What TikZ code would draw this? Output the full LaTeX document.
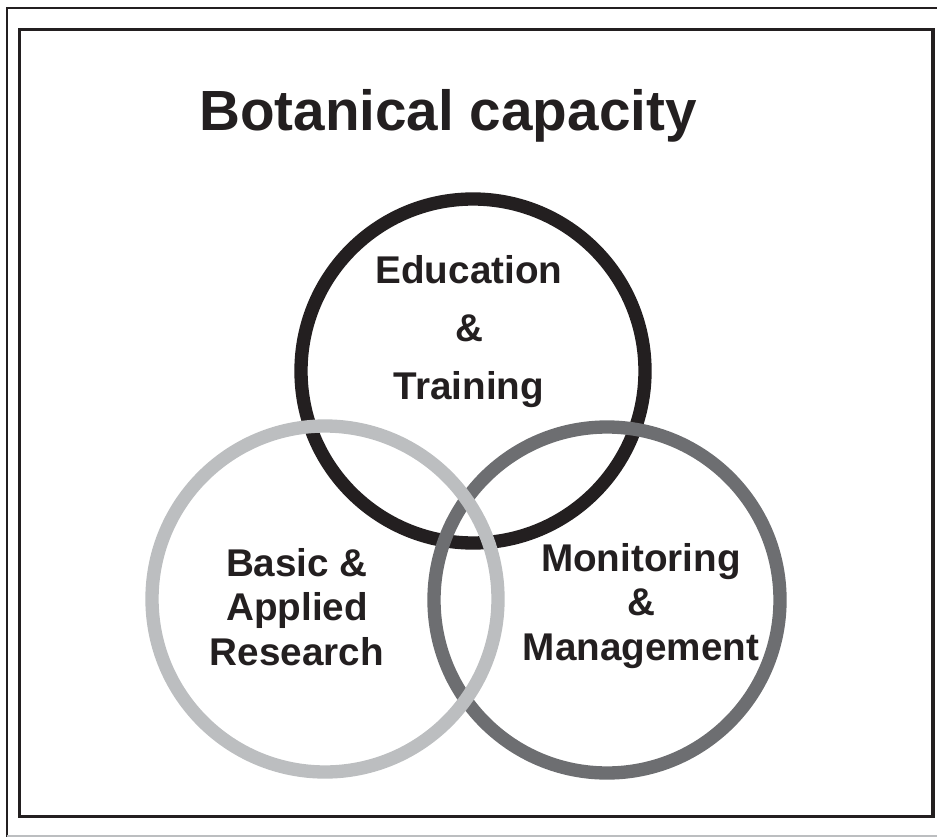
\documentclass[tikz,border=0pt]{standalone}
\usepackage{fontspec}
\setmainfont{Liberation Sans}
\definecolor{ink}{HTML}{231F20}
\definecolor{midgrey}{HTML}{6D6E71}
\definecolor{palegrey}{HTML}{BCBEC0}
\begin{document}
\begin{tikzpicture}[x=0.75pt, y=-0.75pt,
  ring/.style={line width=10pt},
  txt/.style={font=\bfseries\fontsize{29}{33.5}\selectfont, align=center, text=ink}]
 \useasboundingbox (0,0) rectangle (937,837);
 % frames
 \draw[ink, line width=2pt](7,837)--(7,8)--(937,8);
 \draw[palegrey, line width=1pt](7,836)--(937,836);
 \draw[ink, line width=2.5pt](19.5,29.5) rectangle (933,816.5);
 \node[font=\bfseries\fontsize{42.5}{50}\selectfont, text=ink] (title) at (448,116) {Botanical capacity};
 % rings: black first, then dark, then light on top
 \coordinate (edu) at (473,371);
 \coordinate (mon) at (607,600);
 \coordinate (res) at (325,599);
 \draw[ring, ink] (edu) circle (172);
 \draw[ring, midgrey] (mon) circle (173);
 \draw[ring, palegrey] (res) circle (173);
 \node[txt, font=\bfseries\fontsize{29}{43.5}\selectfont] (edutext) at (469,332) {Education\\\&\\Training};
 \node[txt] (restext) at (297,607) {Basic \&\\Applied\\Research};
 \node[txt] (montext) at (641,606) {Monitoring\\\&\\Management};
\end{tikzpicture}
\end{document}
